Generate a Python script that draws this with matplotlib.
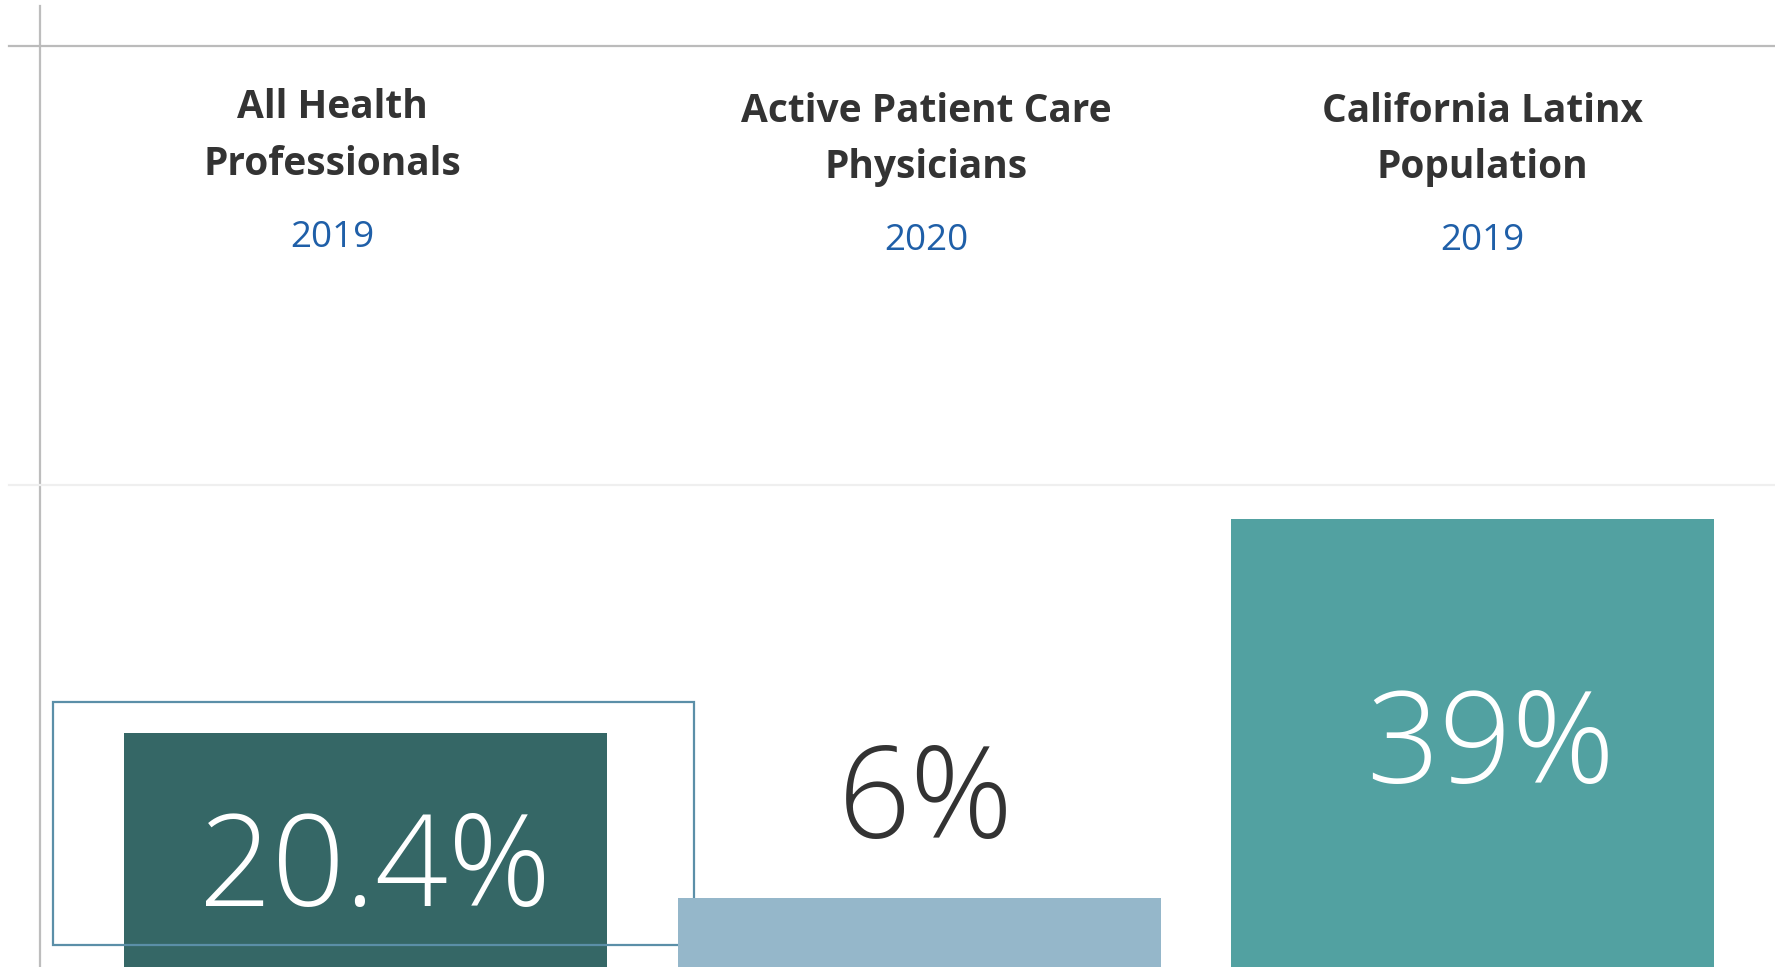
import matplotlib
matplotlib.use("Agg")
import matplotlib.pyplot as plt
from matplotlib.patches import Rectangle
from matplotlib.lines import Line2D

# ---- data ----
categories = ["All Health\nProfessionals", "Active Patient Care\nPhysicians", "California Latinx\nPopulation"]
years = ["2019", "2020", "2019"]
values = [20.4, 6, 39]
value_labels = ["20.4%", "6%", "39%"]

# ---- style ----
bar_colors = ["#356766", "#95B7CA", "#52A1A1"]
label_colors = ["white", "#333333", "white"]
title_color = "#333333"
year_color = "#1F5FA8"
W, H = 1775, 967
DPI = 100

fig = plt.figure(figsize=(W / DPI, H / DPI), dpi=DPI)
fig.patch.set_facecolor("white")

def fx(px):
    return px / W

def fy(py):
    return 1 - py / H

# axes covering the whole figure; bars grow from the bottom edge
ax = fig.add_axes([0, 0, 1, 1])
ax.set_axis_off()
x_center0, x_step = 365.5, 553.5
ax.set_xlim(-x_center0 / x_step, (W - x_center0) / x_step)
px_per_unit = 11.48
ax.set_ylim(0, H / px_per_unit)

xs = list(range(len(values)))
bars = ax.bar(xs, values, width=483 / x_step, color=bar_colors, zorder=2)
bars[1].set_zorder(4)

# highlight frame around first bar (decoration)
frame = Rectangle((fx(52.7), fy(944.7)), fx(693.7) - fx(52.7), fy(701.7) - fy(944.7),
                  transform=fig.transFigure, fill=False, edgecolor="#5B8FA8",
                  linewidth=1.6, zorder=3)
ax.add_patch(frame)

# layout rules
fig.add_artist(Line2D([fx(40), fx(40)], [fy(6), fy(H)], color="#BDBDBD", linewidth=1.6))
fig.add_artist(Line2D([fx(9), 1], [fy(46), fy(46)], color="#BBBBBB", linewidth=1.6))
fig.add_artist(Line2D([fx(9), 1], [fy(485), fy(485)], color="#EFEFEF", linewidth=1.6))

title_font = ["Open Sans", "DejaVu Sans"]
num_font = ["Open Sans", "DejaVu Sans"]

# headers
header_x = [332, 926, 1482]
header_base = [(118, 175, 247), (121.5, 178, 250), (121.5, 178, 250)]
for cat, yr, cx, (b1, b2, b3) in zip(categories, years, header_x, header_base):
    l1, l2 = cat.split("\n")
    fig.text(fx(cx), fy(b1), l1, ha="center", va="baseline", fontsize=28,
             fontweight="bold", color=title_color, family=title_font)
    fig.text(fx(cx), fy(b2), l2, ha="center", va="baseline", fontsize=28,
             fontweight="bold", color=title_color, family=title_font)
    fig.text(fx(cx), fy(b3), yr, ha="center", va="baseline", fontsize=26.5,
             color=year_color, family=title_font)

# value labels
label_x = [375, 926, 1491]
label_base = [906, 838, 783]
for lab, c, lx, lb in zip(value_labels, label_colors, label_x, label_base):
    fig.text(fx(lx), fy(lb), lab, ha="center", va="baseline", fontsize=92,
             fontweight="light", color=c, family=num_font, zorder=6)

fig.savefig("out.png", dpi=DPI, facecolor="white")
